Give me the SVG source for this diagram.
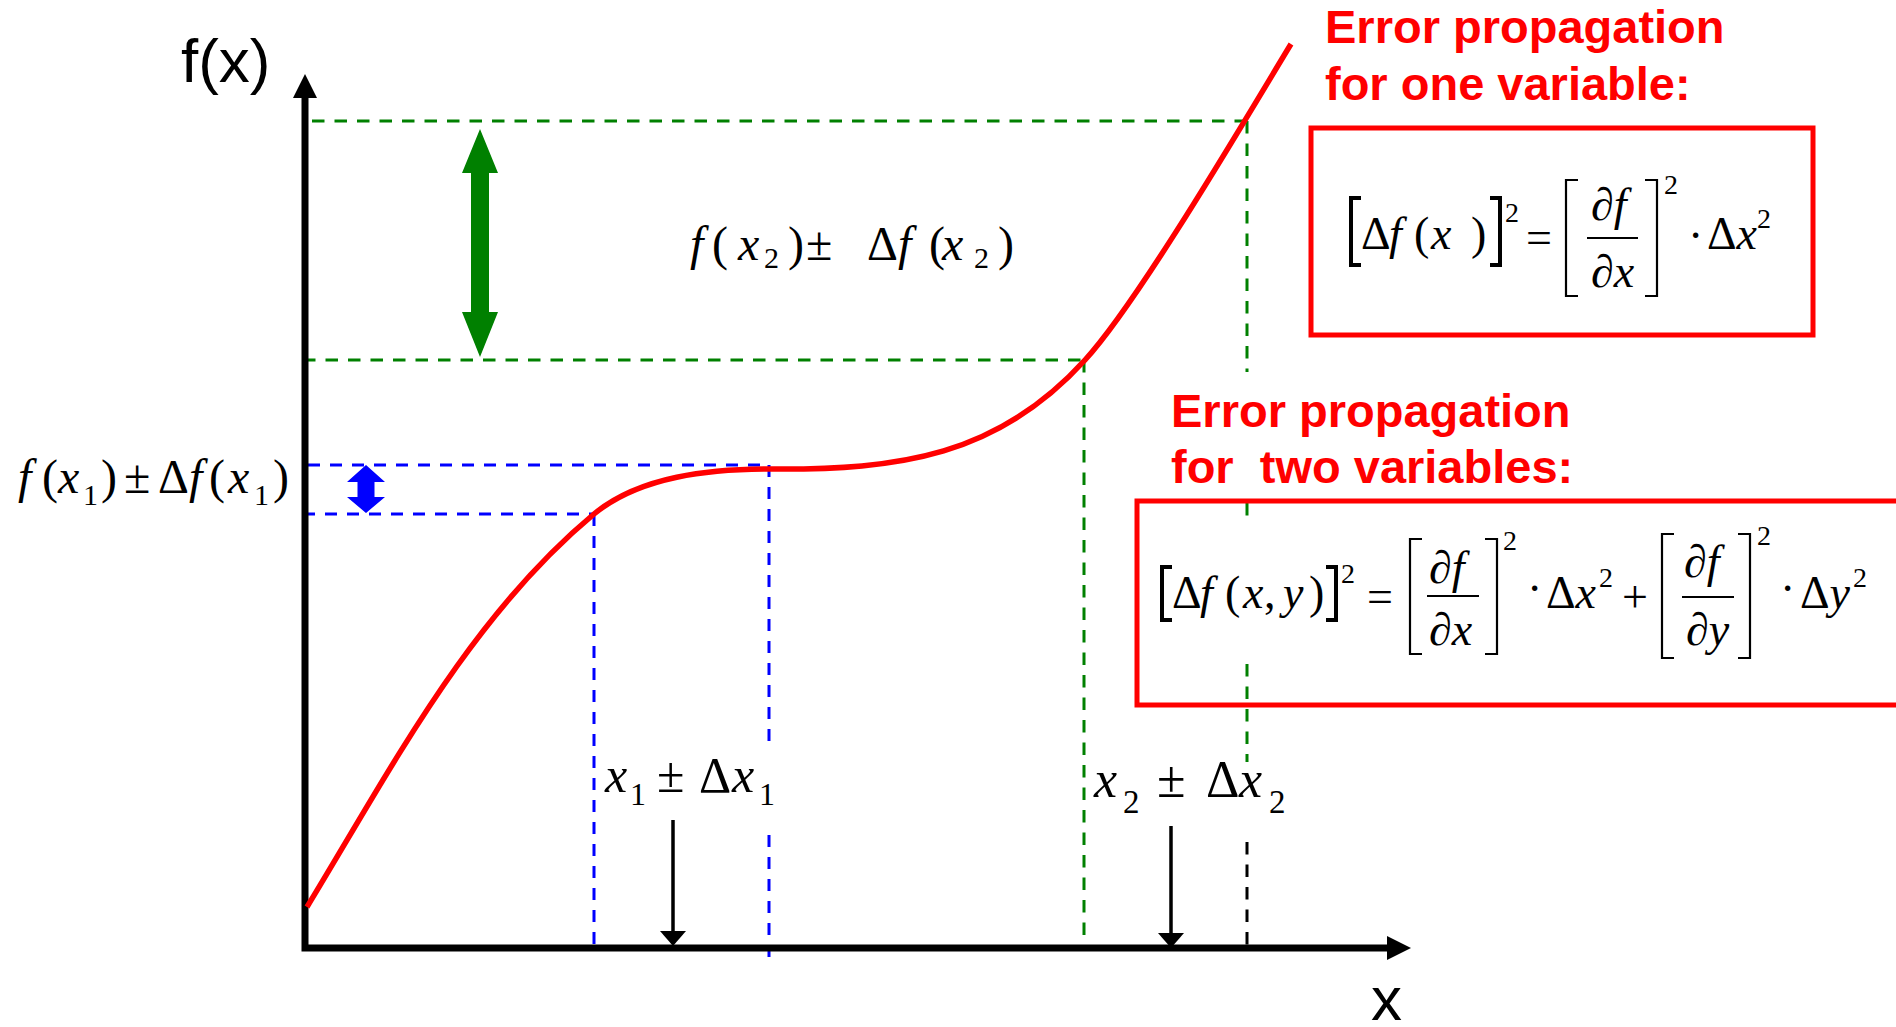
<svg xmlns="http://www.w3.org/2000/svg" width="1896" height="1027" viewBox="0 0 1896 1027">
<style>
.ax{fill:none;stroke:#000;stroke-width:7;stroke-linejoin:miter}
.g{fill:none;stroke:#008000;stroke-width:3;stroke-dasharray:12.5 10}
.b{fill:none;stroke:#0000FF;stroke-width:3;stroke-dasharray:12 10}
.k{fill:none;stroke:#000;stroke-width:3;stroke-dasharray:12.5 10}
.ar{fill:none;stroke:#000;stroke-width:3.5}
.box{fill:none;stroke:#FF0000;stroke-width:5}
.t{font-family:"Liberation Sans",Arial,sans-serif;font-weight:bold;font-size:47px;fill:#FF0000}
.s{font-family:"Liberation Sans",Arial,sans-serif;font-size:62px;fill:#000}
.m{font-family:"Liberation Serif","Times New Roman",serif;font-size:46px;fill:#000}
.l{font-family:"Liberation Serif","Times New Roman",serif;font-size:48px;fill:#000}
.i{font-style:italic}
.sup{font-size:28px}
.sub{font-size:30px}
.br{fill:none;stroke:#000;stroke-width:4}
.bb{fill:none;stroke:#000;stroke-width:2.2}
.fb{stroke:#000;stroke-width:2}
</style>
<defs>
<marker id="axh" markerUnits="userSpaceOnUse" markerWidth="24" markerHeight="24" refX="0" refY="12" orient="auto-start-reverse"><path d="M0,0 L24,12 L0,24 z" fill="#000"/></marker>
<marker id="sh" markerUnits="userSpaceOnUse" markerWidth="15" markerHeight="26" refX="0" refY="13" orient="auto"><path d="M0,0 L15,13 L0,26 z" fill="#000"/></marker>
</defs>

<g id="connectors">
<path class="g" d="M312,121 H1245"/>
<path class="g" d="M303,360 H1085"/>
<path class="g" d="M1247,121 V372"/>
<path class="g" d="M1247,503 V516"/>
<path class="g" d="M1247,664 V762"/>
<path class="k" d="M1247,842 V949"/>
<path class="g" d="M1084,360 V949"/>
<path class="b" d="M308,465 H769"/>
<path class="b" d="M303,514 H594"/>
<path class="b" d="M594,514 V949"/>
<path class="b" d="M769,465 V745"/>
<path class="b" d="M769,835 V960"/>
<path class="ar" d="M673,820 V931" marker-end="url(#sh)"/>
<path class="ar" d="M1171,826 V933" marker-end="url(#sh)"/>
<polygon points="480,129 498,173 489,173 489,312 498,312 480,357 462,312 471,312 471,173 462,173" fill="#008000"/>
<polygon points="366,465 385,482 374.5,482 374.5,497 385,497 366,513 347,497 357.5,497 357.5,482 347,482" fill="#0000FF"/>
</g>

<g id="axes">
<path class="ax" d="M305,98 L305,948 L1387,948" marker-start="url(#axh)" marker-end="url(#axh)"/>
<text class="s" x="181" y="82">f(x)</text>
<text class="s" x="1371" y="1020">x</text>
</g>

<g id="curve">
<path d="M307,907 C391,769 469,618 594,514 C640,476 710,469 770,469 C900,470 998,456 1085,360 C1139,301 1249,113 1291,44" fill="none" stroke="#FF0000" stroke-width="5.5"/>
</g>

<g id="label-fx2">
<text class="l" y="260"><tspan x="690" class="i">f</tspan><tspan x="712">(</tspan><tspan x="738" class="i">x</tspan><tspan x="764" y="268" class="sub">2</tspan><tspan x="788" y="260">)</tspan><tspan x="806">±</tspan><tspan x="867">Δ<tspan class="i">f</tspan></tspan><tspan x="929">(</tspan><tspan x="942" class="i">x</tspan><tspan x="974" y="268" class="sub">2</tspan><tspan x="998" y="260">)</tspan></text>
</g>

<g id="label-fx1">
<text class="l" y="493"><tspan x="18" class="i">f</tspan><tspan x="42">(</tspan><tspan x="58" class="i">x</tspan><tspan x="83" y="505" class="sub">1</tspan><tspan x="101" y="493">)</tspan><tspan x="124">±</tspan><tspan x="158">Δ<tspan class="i">f</tspan></tspan><tspan x="209">(</tspan><tspan x="228" class="i">x</tspan><tspan x="254" y="505" class="sub">1</tspan><tspan x="273" y="493">)</tspan></text>
</g>

<g id="label-x1">
<text class="l" style="font-size:50px" y="792"><tspan x="605" class="i">x</tspan><tspan x="630" y="805" style="font-size:32px">1</tspan><tspan x="657" y="792">±</tspan><tspan x="699">Δ</tspan><tspan x="732" class="i">x</tspan><tspan x="759" y="805" style="font-size:32px">1</tspan></text>
</g>

<g id="label-x2">
<text class="l" style="font-size:52px" y="797"><tspan x="1094" class="i">x</tspan><tspan x="1123" y="813" style="font-size:33px">2</tspan><tspan x="1157" y="797">±</tspan><tspan x="1206">Δ</tspan><tspan x="1239" class="i">x</tspan><tspan x="1269" y="813" style="font-size:33px">2</tspan></text>
</g>

<g id="one-variable">
<text class="t" x="1325" y="43">Error propagation</text>
<text class="t" x="1325" y="100">for one variable:</text>
<rect class="box" x="1311" y="128" width="502" height="207"/>
<path class="br" d="M1361,198 H1351 V265 H1361"/>
<text class="m" y="249"><tspan x="1361">Δ</tspan><tspan x="1389" class="i">f</tspan><tspan x="1414">(</tspan><tspan x="1431" class="i">x</tspan><tspan x="1471">)</tspan></text>
<path class="br" d="M1490,198 H1500 V265 H1490"/>
<text class="m sup" x="1505" y="222">2</text>
<text class="m" x="1526" y="253">=</text>
<path class="bb" d="M1578,180 H1566 V296 H1578"/>
<text class="m" x="1591" y="220">∂<tspan class="i">f</tspan></text>
<line class="fb" x1="1587" y1="238" x2="1638" y2="238"/>
<text class="m" x="1591" y="287">∂<tspan class="i">x</tspan></text>
<path class="bb" d="M1645,180 H1657 V296 H1645"/>
<text class="m sup" x="1664" y="194">2</text>
<text class="m" x="1688" y="251">·</text>
<text class="m" x="1707" y="249">Δ<tspan class="i">x</tspan></text>
<text class="m sup" x="1757" y="228">2</text>
</g>

<g id="two-variables">
<text class="t" x="1171" y="427">Error propagation</text>
<text class="t" x="1171" y="483" xml:space="preserve">for  two variables:</text>
<rect class="box" x="1137" y="501" width="800" height="204"/>
<path class="br" d="M1172,567 H1162 V620 H1172"/>
<text class="m" y="608"><tspan x="1172">Δ</tspan><tspan x="1200" class="i">f</tspan><tspan x="1225">(</tspan><tspan x="1243" class="i">x</tspan><tspan x="1264">,</tspan><tspan x="1283" class="i">y</tspan><tspan x="1309">)</tspan></text>
<path class="br" d="M1326,567 H1336 V620 H1326"/>
<text class="m sup" x="1341" y="583">2</text>
<text class="m" x="1367" y="612">=</text>
<path class="bb" d="M1422,539 H1410 V654 H1422"/>
<text class="m" x="1429" y="583">∂<tspan class="i">f</tspan></text>
<line class="fb" x1="1427" y1="596" x2="1479" y2="596"/>
<text class="m" x="1429" y="645">∂<tspan class="i">x</tspan></text>
<path class="bb" d="M1485,539 H1497 V654 H1485"/>
<text class="m sup" x="1503" y="550">2</text>
<text class="m" x="1527" y="604">·</text>
<text class="m" x="1546" y="608">Δ<tspan class="i">x</tspan></text>
<text class="m sup" x="1599" y="587">2</text>
<text class="m" x="1622" y="612">+</text>
<path class="bb" d="M1674,534 H1662 V658 H1674"/>
<text class="m" x="1684" y="577">∂<tspan class="i">f</tspan></text>
<line class="fb" x1="1682" y1="597" x2="1734" y2="597"/>
<text class="m" x="1686" y="645">∂<tspan class="i">y</tspan></text>
<path class="bb" d="M1738,534 H1750 V658 H1738"/>
<text class="m sup" x="1757" y="545">2</text>
<text class="m" x="1780" y="604">·</text>
<text class="m" x="1800" y="608">Δ<tspan class="i">y</tspan></text>
<text class="m sup" x="1853" y="587">2</text>
</g>
</svg>
